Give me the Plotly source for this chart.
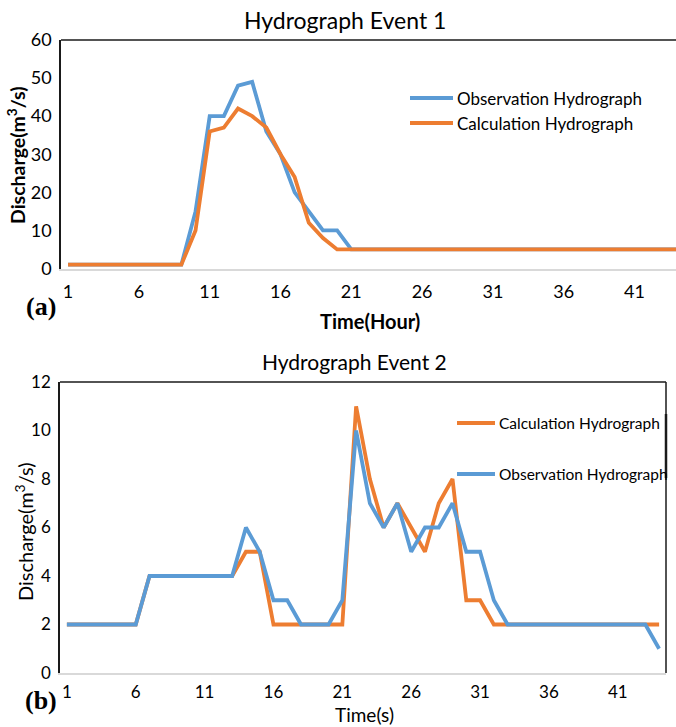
import plotly.graph_objects as go

# ---- data -------------------------------------------------------------
time_steps = [1, 2, 3, 4, 5, 6, 7, 8, 9, 10, 11, 12, 13, 14, 15, 16, 17, 18, 19, 20, 21, 22,
              23, 24, 25, 26, 27, 28, 29, 30, 31, 32, 33, 34, 35, 36, 37, 38, 39, 40, 41, 42, 43, 44]

# Event 1 discharge (m3/s), hourly
event1_observed = [1, 1, 1, 1, 1, 1, 1, 1, 1, 15, 40, 40, 48, 49, 36, 30, 20, 15, 10, 10, 5, 5,
                   5, 5, 5, 5, 5, 5, 5, 5, 5, 5, 5, 5, 5, 5, 5, 5, 5, 5, 5, 5, 5, 5]
event1_calculated = [1, 1, 1, 1, 1, 1, 1, 1, 1, 10, 36, 37, 42, 40, 37, 30, 24, 12, 8, 5, 5, 5,
                     5, 5, 5, 5, 5, 5, 5, 5, 5, 5, 5, 5, 5, 5, 5, 5, 5, 5, 5, 5, 5, 5]

# Event 2 discharge (m3/s)
event2_observed = [2, 2, 2, 2, 2, 2, 4, 4, 4, 4, 4, 4, 4, 6, 5, 3, 3, 2, 2, 2, 3, 10,
                   7, 6, 7, 5, 6, 6, 7, 5, 5, 3, 2, 2, 2, 2, 2, 2, 2, 2, 2, 2, 2, 1]
event2_calculated = [2, 2, 2, 2, 2, 2, 4, 4, 4, 4, 4, 4, 4, 5, 5, 2, 2, 2, 2, 2, 2, 11,
                     8, 6, 7, 6, 5, 7, 8, 3, 3, 2, 2, 2, 2, 2, 2, 2, 2, 2, 2, 2, 2, 2]

x_tick_values = [1, 6, 11, 16, 21, 26, 31, 36, 41]
x_tick_labels = ["1", "6", "11", "16", "21", "26", "31", "36", "41"]
event1_y_ticks = [0, 10, 20, 30, 40, 50, 60]
event2_y_ticks = [0, 2, 4, 6, 8, 10, 12]

OBS_NAME = "Observation Hydrograph"
CALC_NAME = "Calculation Hydrograph"

# ---- styling ----------------------------------------------------------
W, H = 676, 727
BLUE = "#5B9BD5"
ORANGE = "#ED7D31"
SANS = "Lato, 'Open Sans', sans-serif"
SERIF = "'Liberation Serif', 'DejaVu Serif', serif"
LINE_W = 3.8


def fx(px):
    return px / W


def fy(py):
    return 1 - py / H


# plot-area boxes in pixels (left, top, right, bottom)
TOP_BOX = (61, 40, 676, 268.5)
BOT_BOX = (60, 382, 666, 673)

fig = go.Figure()

# Event 1: observation first, calculation drawn over it
fig.add_trace(go.Scatter(x=time_steps, y=event1_observed, name=OBS_NAME, mode="lines",
                         line=dict(color=BLUE, width=LINE_W), xaxis="x", yaxis="y",
                         showlegend=False))
fig.add_trace(go.Scatter(x=time_steps, y=event1_calculated, name=CALC_NAME, mode="lines",
                         line=dict(color=ORANGE, width=LINE_W), xaxis="x", yaxis="y",
                         showlegend=False))
# Event 2: calculation first, observation drawn over it
fig.add_trace(go.Scatter(x=time_steps, y=event2_calculated, name=CALC_NAME, mode="lines",
                         line=dict(color=ORANGE, width=LINE_W), xaxis="x2", yaxis="y2",
                         showlegend=False))
fig.add_trace(go.Scatter(x=time_steps, y=event2_observed, name=OBS_NAME, mode="lines",
                         line=dict(color=BLUE, width=LINE_W), xaxis="x2", yaxis="y2",
                         showlegend=False))

tick_font_top = dict(family=SANS, size=18, color="#000000")
tick_font_bot = dict(family=SANS, size=17, color="#000000")

common_x = dict(showgrid=False, zeroline=False, showline=True, linecolor="#D9D9D9",
                linewidth=1.5, ticks="", tickmode="array", tickvals=x_tick_values,
                ticktext=x_tick_labels, fixedrange=True, automargin=False)
common_y = dict(showgrid=False, zeroline=False, showline=True, linecolor="#1a1a1a",
                linewidth=1.5, ticks="", tickmode="array", ticklabelstandoff=4,
                fixedrange=True, automargin=False)

fig.update_layout(
    width=W, height=H,
    margin=dict(l=0, r=0, t=0, b=0, autoexpand=False),
    paper_bgcolor="white", plot_bgcolor="white",
    xaxis=dict(common_x, domain=[fx(TOP_BOX[0]), fx(TOP_BOX[2])], range=[0.5, 43.93],
               anchor="y", tickfont=tick_font_top, ticklabelstandoff=6),
    yaxis=dict(common_y, domain=[fy(TOP_BOX[3]), fy(TOP_BOX[1])], range=[0, 60],
               tickvals=event1_y_ticks, anchor="x", tickfont=tick_font_top),
    xaxis2=dict(common_x, domain=[fx(BOT_BOX[0]), fx(BOT_BOX[2])], range=[0.5, 44.5],
                anchor="y2", tickfont=tick_font_bot, ticklabelstandoff=3),
    yaxis2=dict(common_y, domain=[fy(BOT_BOX[3]), fy(BOT_BOX[1])], range=[0, 12],
                tickvals=event2_y_ticks, anchor="x2", tickfont=tick_font_bot),
)

shapes = []
# upper frame lines
for box in (TOP_BOX, BOT_BOX):
    shapes.append(dict(type="line", xref="paper", yref="paper",
                       x0=fx(box[0]), x1=fx(box[2]), y0=fy(box[1]), y1=fy(box[1]),
                       line=dict(color="#1a1a1a", width=1.5)))
# right frame line of the second chart
shapes.append(dict(type="line", xref="paper", yref="paper",
                   x0=fx(BOT_BOX[2]), x1=fx(BOT_BOX[2]), y0=fy(BOT_BOX[3]), y1=fy(BOT_BOX[1]),
                   line=dict(color="#1a1a1a", width=1.5)))
shapes.append(dict(type="line", xref="paper", yref="paper",
                   x0=fx(BOT_BOX[2]), x1=fx(BOT_BOX[2]), y0=fy(478), y1=fy(414),
                   line=dict(color="#1a1a1a", width=2.5)))


# legend samples and labels
def legend_entry(x0, x1, y, color, text, size):
    shapes.append(dict(type="line", xref="paper", yref="paper",
                       x0=fx(x0), x1=fx(x1), y0=fy(y), y1=fy(y),
                       line=dict(color=color, width=LINE_W)))
    return dict(text=text, xref="paper", yref="paper", x=fx(x1 + 2), y=fy(y),
                xanchor="left", yanchor="middle", showarrow=False,
                font=dict(family=SANS, size=size, color="#000000"))


annotations = [
    legend_entry(410, 453, 98, BLUE, OBS_NAME, 17),
    legend_entry(410, 453, 123, ORANGE, CALC_NAME, 17),
    legend_entry(457, 495, 423, ORANGE, CALC_NAME, 15.5),
    legend_entry(457, 495, 474, BLUE, OBS_NAME, 15.5),
]


def text_at(text, x, y, size, family=SANS, bold=False, angle=0):
    return dict(text=f"<b>{text}</b>" if bold else text, xref="paper", yref="paper",
                x=fx(x), y=fy(y), xanchor="center", yanchor="middle", showarrow=False,
                textangle=angle, font=dict(family=family, size=size, color="#000000"))


annotations += [
    text_at("Hydrograph Event 1", 345, 20, 23),
    text_at("Hydrograph Event 2", 354, 361, 21),
    text_at("Discharge(m<sup>3</sup>/s)", 17, 155, 19.5, bold=True, angle=-90),
    text_at("Discharge(m<sup>3</sup>/s)", 24, 532, 20, angle=-90),
    text_at("Time(Hour)", 370, 321, 20, bold=True),
    text_at("Time(s)", 364, 714, 19),
    text_at("(a)", 41, 306, 26, family=SERIF, bold=True),
    text_at("(b)", 41, 700, 26, family=SERIF, bold=True),
]

fig.update_layout(shapes=shapes, annotations=annotations)

fig.write_html("out.html")
